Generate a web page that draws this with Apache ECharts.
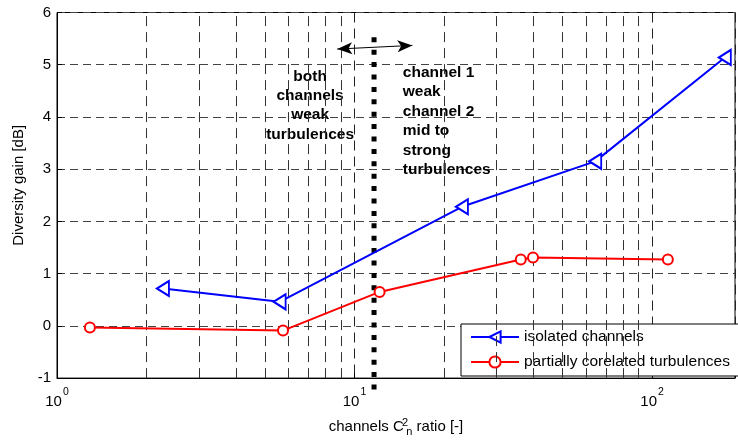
<!DOCTYPE html>
<html>
<head>
<meta charset="utf-8">
<script src="https://cdn.jsdelivr.net/npm/echarts@6/dist/echarts.min.js"></script>
<style>
html,body{margin:0;padding:0;background:#fff;}
#chart{width:738px;height:442px;}
</style>
</head>
<body>
<div id="chart"></div>
<script>
// ---- data ----
const isolatedX = [2.27, 5.60, 22.96, 64.4, 175.6];
const isolatedY = [0.715, 0.46, 2.28, 3.15, 5.14];
const corelatedX = [1.29, 5.75, 12.14, 36.2, 39.8, 113];
const corelatedY = [-0.03, -0.09, 0.65, 1.27, 1.31, 1.27];
const seriesNames = ['isolated channels', 'partially corelated turbulences'];
const minorGridX = [2, 3, 4, 5, 6, 7, 8, 9, 20, 30, 40, 50, 60, 70, 80, 90];
const xRange = [1, 190];
const yRange = [-1, 6];
const yStep = 1;
const boundaryX = 11.63;
const boundaryY = [5.525, -1.27];
const arrowStart = [8.75, 5.30];
const arrowEnd = [15.65, 5.37];
const leftNote = { x: 7.09, y: 4.22, text: 'both\nchannels\nweak\nturbulences' };
const rightNote = { x: 14.53, y: 3.92, text: 'channel 1\nweak\nchannel 2\nmid to\nstrong\nturbulences' };

const FONT = "'Liberation Sans', Arial, Helvetica, sans-serif";
const zip = (xs, ys) => xs.map((x, i) => [x, ys[i]]);

const chart = echarts.init(document.getElementById('chart'), null, { renderer: 'canvas' });

const noteLabel = {
  show: true,
  fontSize: 15.5, fontWeight: 'bold', fontFamily: FONT,
  color: '#000', opacity: 1, textBorderWidth: 0, textBorderColor: 'transparent',
  lineHeight: 19.4, verticalAlign: 'middle'
};

const option = {
  animation: false,
  backgroundColor: '#fff',
  textStyle: { fontFamily: FONT, color: '#000' },
  grid: {
    left: 57, top: 12.5, right: -2, bottom: 61,
    show: true, borderColor: '#000', borderWidth: 1, backgroundColor: 'transparent'
  },
  legend: {
    orient: 'vertical',
    left: 461, top: 324,
    data: seriesNames,
    backgroundColor: '#fff',
    borderColor: '#000',
    borderWidth: 1,
    padding: [5, 60, 6, 9],
    itemWidth: 48,
    itemHeight: 14,
    itemGap: 9,
    textStyle: { fontSize: 15.5, color: '#000', fontFamily: FONT },
    selectedMode: false
  },
  xAxis: {
    type: 'log', logBase: 10,
    min: xRange[0], max: xRange[1],
    axisLine: { show: true, onZero: false, lineStyle: { color: '#000', width: 1 } },
    axisTick: { show: true, inside: true, length: 5, lineStyle: { color: '#000' } },
    axisLabel: {
      color: '#000', margin: 9,
      formatter: function (v) {
        const e = Math.round(Math.log10(v));
        if (Math.abs(Math.pow(10, e) - v) > 1e-6 * v) return '';
        return '{b|10}{s|' + e + '}';
      },
      rich: {
        b: { fontSize: 15, fontFamily: FONT, color: '#000', verticalAlign: 'bottom', lineHeight: 22 },
        s: { fontSize: 10.5, fontFamily: FONT, color: '#000', verticalAlign: 'top', lineHeight: 22, padding: [0, 0, 0, 1] }
      }
    },
    splitLine: { show: true, lineStyle: { color: '#222', width: 1, type: [10, 6] } },
    name: '{a|channels C}{sup|2}{sub|n}{a| ratio [-]}',
    nameLocation: 'middle',
    nameGap: 33,
    nameTextStyle: {
      rich: {
        a: { fontSize: 15, fontFamily: FONT, color: '#000', lineHeight: 20, verticalAlign: 'middle' },
        sup: { fontSize: 11, fontFamily: FONT, color: '#000', width: 0.5, verticalAlign: 'top', lineHeight: 20, padding: [0, 0, 0, 1] },
        sub: { fontSize: 11, fontFamily: FONT, color: '#000', verticalAlign: 'bottom', lineHeight: 20, padding: [12, 0, 0, 1] }
      }
    }
  },
  yAxis: {
    type: 'value',
    min: yRange[0], max: yRange[1], interval: yStep,
    axisLine: { show: true, onZero: false, lineStyle: { color: '#000', width: 1 } },
    axisTick: { show: true, inside: true, length: 5, lineStyle: { color: '#000' } },
    axisLabel: { color: '#000', fontSize: 15, fontFamily: FONT, margin: 6 },
    splitLine: { show: true, lineStyle: { color: '#444', width: 1, type: [8, 5] } },
    name: 'Diversity gain [dB]',
    nameLocation: 'middle',
    nameGap: 28,
    nameTextStyle: { fontSize: 15, fontFamily: FONT, color: '#000', padding: [0, 0, 0, 20] }
  },
  series: [
    {
      name: 'minor-grid',
      type: 'line',
      data: [],
      silent: true,
      z: 1,
      markLine: {
        silent: true,
        symbol: ['none', 'none'],
        label: { show: false },
        lineStyle: { color: '#333', width: 1, type: [10, 6] },
        emphasis: { disabled: true },
        data: minorGridX.map(v => ({ xAxis: v }))
      }
    },
    {
      name: 'boundary',
      type: 'line',
      data: [[boundaryX, boundaryY[0]], [boundaryX, boundaryY[1]]],
      symbol: 'none',
      clip: false,
      silent: true,
      z: 2,
      lineStyle: { color: '#000', width: 5, type: [5, 7.4], cap: 'butt' },
      markLine: {
        silent: true,
        symbol: ['arrow', 'arrow'],
        symbolSize: [9, 15],
        label: { show: false },
        lineStyle: { color: '#000', width: 1, type: 'solid' },
        emphasis: { disabled: true },
        data: [[{ coord: arrowStart }, { coord: arrowEnd }]]
      }
    },
    {
      name: 'notes',
      type: 'scatter',
      symbolSize: 0,
      silent: true,
      z: 3,
      itemStyle: { color: '#000', opacity: 1 },
      data: [
        { value: [leftNote.x, leftNote.y], itemStyle: { opacity: 1 }, label: Object.assign({}, noteLabel, { position: 'inside', align: 'center', formatter: leftNote.text }) },
        { value: [rightNote.x, rightNote.y], itemStyle: { opacity: 1 }, label: Object.assign({}, noteLabel, { position: 'inside', align: 'left', formatter: rightNote.text }) }
      ],
      label: noteLabel
    },
    {
      name: seriesNames[0],
      type: 'line',
      data: zip(isolatedX, isolatedY),
      symbol: 'emptyTriangle',
      symbolSize: [15, 12],
      symbolRotate: 90,
      color: '#0000ff',
      lineStyle: { color: '#0000ff', width: 2 },
      itemStyle: { color: '#0000ff', borderColor: '#0000ff', borderWidth: 2 },
      clip: false,
      z: 5
    },
    {
      name: seriesNames[1],
      type: 'line',
      data: zip(corelatedX, corelatedY),
      symbol: 'emptyCircle',
      symbolSize: 10,
      color: '#ff0000',
      lineStyle: { color: '#ff0000', width: 2 },
      itemStyle: { color: '#ff0000', borderColor: '#ff0000', borderWidth: 2 },
      clip: false,
      z: 5
    }
  ]
};
chart.setOption(option);
</script>
</body>
</html>
